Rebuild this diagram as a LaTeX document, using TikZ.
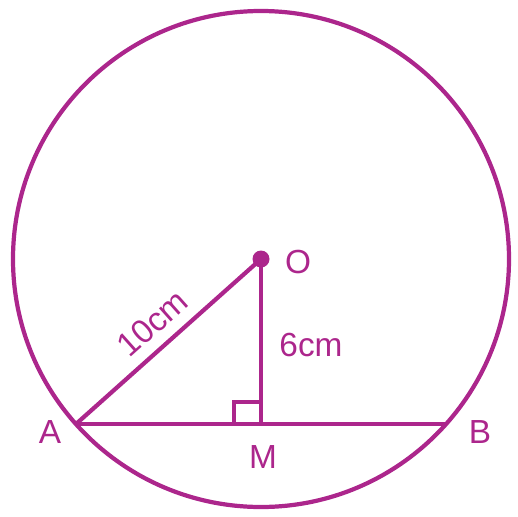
\documentclass[tikz,border=0pt]{standalone}
\usepackage{fontspec}
\setmainfont{Liberation Sans}
\usepackage{tikz}
\usetikzlibrary{calc}
\definecolor{geo}{RGB}{172,38,140}
\tikzstyle{geoline} = [draw=geo, line width=2.4pt]
\tikzstyle{lbl} = [text=geo, font=\fontsize{19}{22}\selectfont, inner sep=1pt]

\begin{document}
\begin{tikzpicture}
    \useasboundingbox (0,0) rectangle (10.36,10.32);
    \coordinate (O) at (5.22,5.14);
    \coordinate (A) at (1.52,1.84);
    \coordinate (B) at (8.92,1.84);
    \coordinate (M) at (5.22,1.84);
    \draw[geoline] (O) circle (4.96);
    \draw[geoline] (A) -- (B);
    \draw[geoline] (A) -- node[lbl, sloped, above=5pt] {10cm} (O);
    \draw[geoline] (O) -- (M);
    \draw[geo, line width=2pt] ($(M)+(-0.54,0)$) -- ++(0,0.44) -- ++(0.54,0);
    \fill[geo] (O) circle (0.17);
    \node[lbl] (labO) at (5.96,5.08) {O};
    \node[lbl] (labA) at (1.0,1.68) {A};
    \node[lbl] (labB) at (9.6,1.68) {B};
    \node[lbl] (labM) at (5.26,1.18) {M};
    \node[lbl] (lab6) at (6.22,3.42) {6cm};
\end{tikzpicture}
\end{document}
